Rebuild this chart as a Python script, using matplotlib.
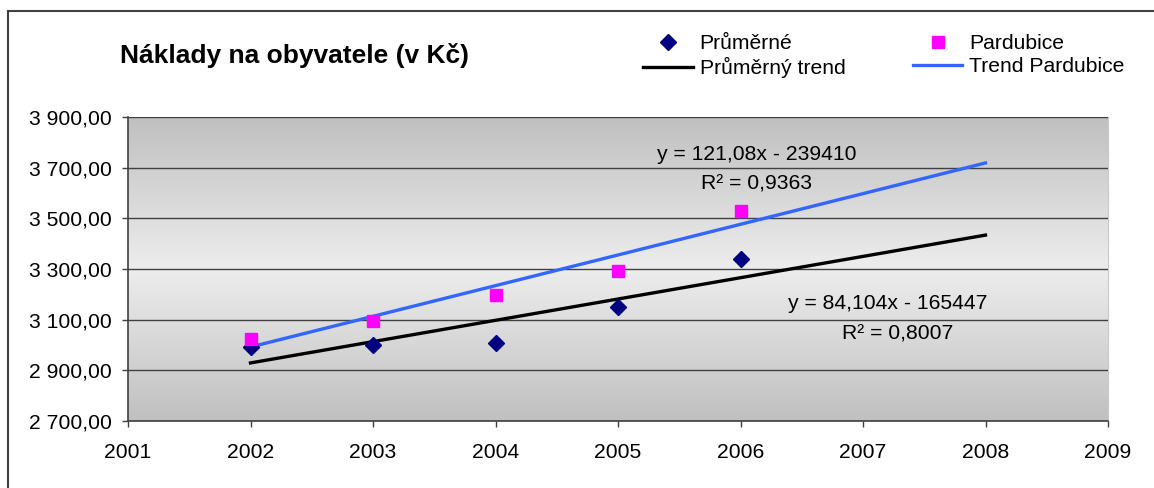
import numpy as np
import matplotlib
matplotlib.use("Agg")
import matplotlib.pyplot as plt
from matplotlib.ticker import FuncFormatter
from matplotlib.patches import Rectangle
from matplotlib.colors import LinearSegmentedColormap

plt.rcParams['font.family'] = ['Liberation Sans', 'DejaVu Sans']

years = [2002, 2003, 2004, 2005, 2006]
prumerne = [2992, 3000, 3008, 3150, 3340]
pardubice = [3024, 3095, 3197, 3292, 3529]
trend_years = [2002, 2008]
prum_coef = (84.104, -165447)
pard_coef = (121.08, -239410)
yticks = [2700, 2900, 3100, 3300, 3500, 3700, 3900]
xticks = [2001, 2002, 2003, 2004, 2005, 2006, 2007, 2008, 2009]
prum_eq = "y = 84,104x - 165447"
prum_r2 = "R² = 0,8007"
pard_eq = "y = 121,08x - 239410"
pard_r2 = "R² = 0,9363"
title = "Náklady na obyvatele (v Kč)"

FS = 15.2

fig = plt.figure(figsize=(11.54, 4.88), dpi=100)
fig.patch.set_facecolor('white')
fig.patches.append(Rectangle((8/1154, -0.1), 1.2, 1 - 11/488 + 0.1, transform=fig.transFigure,
                             fill=False, edgecolor='#404040', linewidth=1.5))

ax = fig.add_axes([128/1154, 1 - 421/488, (1108 - 128)/1154, (421 - 117)/488])

cmap = LinearSegmentedColormap.from_list('g', ['#c0c0c0', '#ededed', '#c0c0c0'])
grad = np.linspace(0, 1, 256).reshape(-1, 1)
ax.imshow(grad, cmap=cmap, aspect='auto', extent=[0, 1, 0, 1], transform=ax.transAxes, zorder=0)

ax.set_xlim(xticks[0], xticks[-1])
ax.set_ylim(yticks[0], yticks[-1])
ax.set_yticks(yticks)
ax.set_xticks(xticks)
ax.grid(axis='y', color='#404040', linewidth=1.0, zorder=1)
ax.set_axisbelow(False)

def yfmt(v, pos):
    return f"{v:,.2f}".replace(",", " ").replace(".", ",")
ax.yaxis.set_major_formatter(FuncFormatter(yfmt))
ax.xaxis.set_major_formatter(FuncFormatter(lambda v, p: f"{int(v)}"))

for sp in ['top', 'right']:
    ax.spines[sp].set_color('#c8c8c8')
    ax.spines[sp].set_linewidth(0.8)
for sp in ['left', 'bottom']:
    ax.spines[sp].set_color('#404040')
    ax.spines[sp].set_linewidth(1.2)
ax.tick_params(axis='both', direction='out', length=4.3, width=1.0, color='#404040',
               labelsize=FS)
ax.tick_params(axis='y', pad=7.2)
ax.tick_params(axis='x', pad=11.5)

ty = np.array(trend_years)
l1, = ax.plot(ty, prum_coef[0] * ty + prum_coef[1], color='black', linewidth=2.4, zorder=3)
l2, = ax.plot(ty, pard_coef[0] * ty + pard_coef[1], color='#3366ff', linewidth=2.4, zorder=3)
s1, = ax.plot(years, prumerne, linestyle='none', marker='D', color='#000080', markersize=8,
              zorder=4)
s2, = ax.plot(years, pardubice, linestyle='none', marker='s', color='#ff00ff', markersize=8,
              zorder=4)

ax.text(2006.13, 3750, pard_eq, ha='center', va='center', fontsize=FS, zorder=5)
ax.text(2006.13, 3636, pard_r2, ha='center', va='center', fontsize=FS, zorder=5)
ax.text(2007.2, 3162, prum_eq, ha='center', va='center', fontsize=FS, zorder=5)
ax.text(2007.28, 3043, prum_r2, ha='center', va='center', fontsize=FS, zorder=5)

fig.text(120/1154, 1 - 55/488, title, fontsize=19, fontweight='bold', ha='left', va='center')

leg = fig.legend([s1, l1, s2, l2], ['Průměrné', 'Průměrný trend', 'Pardubice', 'Trend Pardubice'],
                 ncol=2, loc='upper left', bbox_to_anchor=(643/1154, 1 - 34/488), frameon=False,
                 fontsize=FS, handlelength=2.35, handletextpad=0.33, columnspacing=3.2,
                 labelspacing=0.2, borderpad=0, borderaxespad=0)

fig.savefig('out.png', dpi=100)
